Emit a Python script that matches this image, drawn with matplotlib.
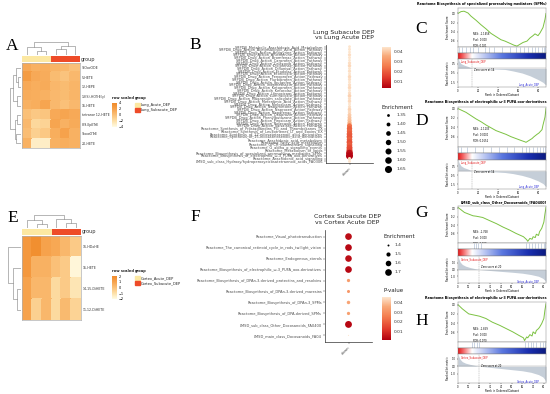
import matplotlib
matplotlib.use("Agg")
import matplotlib.pyplot as plt
import numpy as np
from matplotlib.colors import LinearSegmentedColormap, Normalize
from matplotlib.cm import ScalarMappable
from matplotlib.patches import Rectangle

W, H = 550, 394

# ---------------- data ----------------
# A: lung heatmap (row scaled)
a_rows = ["9-OxoODE", "5-HETE", "12-HEPE", "13(S)-HOTrE(γ)", "15-HETE",
          "tetranor 12-HETE", "8,9-EpETrE", "9-oxoOTrE", "20-HETE"]
a_vals = [[1.5, 1.0, 1.2, 0.8, 0.6, 0.0],
          [2.5, 1.5, 1.3, 0.3, -0.2, 0.5],
          [1.5, 1.2, 1.4, 0.6, 0.3, 0.7],
          [1.3, 1.2, 1.0, 0.5, 0.3, 0.7],
          [1.0, 1.2, 1.8, 0.5, 0.0, 0.5],
          [0.0, -0.5, -0.3, 1.5, 1.8, 1.5],
          [0.5, -1.5, -1.2, 1.8, 1.0, 1.4],
          [0.2, -1.0, -0.5, 1.2, 2.0, 1.0],
          [1.0, -3.0, -3.0, 1.0, 1.2, 1.0]]
a_groups = ["Lung_Acute_DEP"] * 3 + ["Lung_Subacute_DEP"] * 3
a_col_tree = ((0, (1, 2, 0.35), 0.6), ((3, 4, 0.5), 5, 0.7), 1.0)
a_row_tree = (((0, (1, 2, 0.3), 0.5), (3, 4, 0.35), 0.7), ((5, 6, 0.4), (7, 8, 0.45), 0.6), 1.0)

# E: cortex heatmap (row scaled)
e_rows = ["16-HDoHE", "15-HETE", "14,15-DiHETE", "11,12-DiHETE"]
e_vals = [[1.4, 1.8, 1.0, 0.8, 0.3, -0.3],
          [1.4, 0.5, 0.5, 0.0, -0.3, -1.8],
          [1.0, 0.3, 0.3, -0.8, -0.3, -1.2],
          [1.0, -0.5, 0.3, -0.8, 0.2, -0.6]]
e_groups = ["Cortex_Acute_DEP"] * 3 + ["Cortex_Subacute_DEP"] * 3
e_col_tree = ((0, (1, 2, 0.3), 0.6), (3, (4, 5, 0.4), 0.7), 1.0)
e_row_tree = (0, (1, (2, 3, 0.3), 0.6), 1.0)

# B: lung enrichment dot plot
b_terms = ["SMPDB_Metabolic_Arachidonic_Acid_Metabolism",
           "SMPDB_Drug_Action_Acetylsalicylic_Acid_Action_Pathway",
           "SMPDB_Drug_Action_Antipyrine_Action_Pathway",
           "SMPDB_Drug_Action_Antrafenine_Action_Pathway",
           "SMPDB_Drug_Action_Bromfenac_Action_Pathway",
           "SMPDB_Drug_Action_Carprofen_Action_Pathway",
           "SMPDB_Drug_Action_Celecoxib_Action_Pathway",
           "SMPDB_Drug_Action_Diclofenac_Action_Pathway",
           "SMPDB_Drug_Action_Diflunisal_Action_Pathway",
           "SMPDB_Drug_Action_Etodolac_Action_Pathway",
           "SMPDB_Drug_Action_Etoricoxib_Action_Pathway",
           "SMPDB_Drug_Action_Fenoprofen_Action_Pathway",
           "SMPDB_Drug_Action_Flurbiprofen_Action_Pathway",
           "SMPDB_Drug_Action_Ibuprofen_Action_Pathway",
           "SMPDB_Drug_Action_Indomethacin_Action_Pathway",
           "SMPDB_Drug_Action_Ketoprofen_Action_Pathway",
           "SMPDB_Drug_Action_Ketorolac_Action_Pathway",
           "SMPDB_Drug_Action_Lornoxicam_Action_Pathway",
           "SMPDB_Drug_Action_Lumiracoxib_Action_Pathway",
           "SMPDB_Drug_Action_Magnesium_salicylate_Action_Pathway",
           "SMPDB_Drug_Action_Mefenamic_Acid_Action_Pathway",
           "SMPDB_Drug_Action_Meloxicam_Action_Pathway",
           "SMPDB_Drug_Action_Nabumetone_Action_Pathway",
           "SMPDB_Drug_Action_Naproxen_Action_Pathway",
           "SMPDB_Drug_Action_Nepafenac_Action_Pathway",
           "SMPDB_Drug_Action_Oxaprozin_Action_Pathway",
           "SMPDB_Drug_Action_Phenylbutazone_Action_Pathway",
           "SMPDB_Drug_Action_Piroxicam_Action_Pathway",
           "SMPDB_Drug_Action_Rofecoxib_Action_Pathway",
           "SMPDB_Drug_Action_Salsalate_Action_Pathway",
           "Reactome_Synthesis_of_Prostaglandins_PG_and_Thromboxanes_TX",
           "Reactome_Synthesis_of_Leukotrienes_LT_and_Eoxins_EX",
           "Reactome_Synthesis_of_12-eicosatetraenoic_acid_derivatives",
           "Reactome_Synthesis_of_15-eicosatetraenoic_acid_derivatives",
           "Reactome_Arachidonic_acid_metabolism",
           "Reactome_Fatty_acid_metabolism",
           "Reactome_GPCR_downstream_signalling",
           "Reactome_G_alpha_q_signalling_events",
           "Reactome_Metabolism_of_lipids",
           "Reactome_Biosynthesis_of_specialized_proresolving_mediators_SPMs",
           "Reactome_Biosynthesis_of_electrophilic_ω-3_PUFA_oxo-derivatives",
           "Reactome_Arachidonic_acid_signalling",
           "LMSD_sub_class_Hydroxy/hydroperoxyeicosatetraenoic_acids_FA0306"]
b_pval = [0.046, 0.045, 0.045, 0.044, 0.045, 0.046, 0.044, 0.043, 0.045, 0.044,
          0.045, 0.043, 0.044, 0.045, 0.044, 0.043, 0.045, 0.044, 0.042, 0.044,
          0.043, 0.045, 0.044, 0.042, 0.043, 0.041, 0.040, 0.039, 0.037,
          0.024, 0.021, 0.022, 0.020, 0.019, 0.021, 0.018, 0.020, 0.017, 0.016,
          0.006, 0.004, 0.044, 0.045]
b_enrich = [1.35, 1.36, 1.35, 1.37, 1.36, 1.35, 1.37, 1.38, 1.36, 1.37,
            1.36, 1.38, 1.37, 1.36, 1.37, 1.38, 1.36, 1.37, 1.39, 1.37,
            1.38, 1.36, 1.37, 1.39, 1.38, 1.40, 1.41, 1.42, 1.43,
            1.48, 1.50, 1.50, 1.52, 1.53, 1.51, 1.54, 1.52, 1.55, 1.56,
            1.63, 1.65, 1.37, 1.36]
b_size_breaks = [1.35, 1.40, 1.45, 1.50, 1.55, 1.60, 1.65]
b_p_ticks = [0.01, 0.02, 0.03, 0.04]

# F: cortex enrichment dot plot
f_terms = ["Reactome_Visual_phototransduction",
           "Reactome_The_canonical_retinoid_cycle_in_rods_twilight_vision",
           "Reactome_Endogenous_sterols",
           "Reactome_Biosynthesis_of_electrophilic_ω-3_PUFA_oxo-derivatives",
           "Reactome_Biosynthesis_of_DPAn-3-derived_protectins_and_resolvins",
           "Reactome_Biosynthesis_of_DPAn-3-derived_maresins",
           "Reactome_Biosynthesis_of_DPAn-3_SPMs",
           "Reactome_Biosynthesis_of_DPA-derived_SPMs",
           "LMSD_sub_class_Other_Docosanoids_FA0400",
           "LMSD_main_class_Docosanoids_FA04"]
f_pval = [0.003, 0.002, 0.003, 0.002, 0.033, 0.032, 0.035, 0.034, 0.002, 0.046]
f_enrich = [1.70, 1.70, 1.69, 1.70, 1.45, 1.44, 1.46, 1.45, 1.72, 1.38]
f_size_breaks = [1.4, 1.5, 1.6, 1.7]
f_p_ticks = [0.01, 0.02, 0.03, 0.04]

# GSEA panels C, D, G, H
c_rank = [0, 3, 6, 10, 13, 18, 23, 28, 33, 38, 43, 47, 50, 54, 56, 59, 62, 65, 69, 72, 75, 77, 80, 82, 85, 87, 88]
c_es = [0.00, 0.04, 0.05, 0.01, -0.06, -0.15, -0.25, -0.34, -0.44, -0.51, -0.58, -0.61, -0.64, -0.68,
        -0.70, -0.72, -0.68, -0.64, -0.61, -0.54, -0.49, -0.45, -0.49, -0.43, -0.31, -0.13, 0.00]
c_hits = [1, 4, 8, 12, 15, 20, 27, 31, 36, 44, 52, 58, 62, 66, 70, 74, 77, 80, 84, 86, 87]
c_mrank = [0, 1, 3, 6, 10, 14, 25, 35, 47, 55, 64, 72, 80, 85, 88]
c_mval = [1.2, 0.8, 0.5, 0.35, 0.2, 0.0, -0.04, -0.07, -0.12, -0.28, -0.5, -0.8, -1.2, -1.5, -1.8]

d_rank = [0, 8, 13, 18, 23, 28, 33, 38, 43, 48, 53, 58, 63, 67, 68, 71, 74, 76, 79, 81, 84, 85, 87, 88]
d_es = [0.00, -0.08, -0.15, -0.22, -0.28, -0.35, -0.41, -0.47, -0.51, -0.55, -0.60, -0.64, -0.68,
        -0.71, -0.72, -0.68, -0.64, -0.60, -0.55, -0.52, -0.45, -0.35, -0.18, 0.00]
d_hits = [0, 3, 9, 17, 25, 33, 41, 49, 56, 64, 68, 71, 75, 79, 82, 85, 87]
d_mrank = [0, 1, 3, 6, 10, 14, 25, 35, 47, 55, 64, 72, 80, 85, 88]
d_mval = [1.3, 0.9, 0.55, 0.35, 0.2, 0.0, -0.05, -0.1, -0.18, -0.3, -0.5, -0.75, -1.1, -1.4, -1.75]

g_rank = [0, 6, 14, 17, 23, 29, 36, 42, 48, 54, 61, 64, 65, 67, 69, 70, 72, 73, 75, 76, 78, 80, 81, 82]
g_es = [0.02, -0.10, -0.18, -0.19, -0.22, -0.29, -0.37, -0.45, -0.52, -0.60, -0.68, -0.75, -0.79,
        -0.72, -0.74, -0.68, -0.70, -0.62, -0.65, -0.56, -0.48, -0.33, -0.14, 0.02]
g_hits = [15, 17, 19, 21, 63, 66, 69, 72, 75, 77, 80, 81]
g_mrank = [0, 1, 2, 4, 7, 11, 16, 20, 30, 40, 50, 60, 68, 75, 79, 81, 82]
g_mval = [2.0, 1.5, 1.1, 0.75, 0.5, 0.3, 0.12, 0.0, -0.15, -0.28, -0.4, -0.55, -0.75, -1.0, -1.3, -1.6, -1.9]

h_rank = [0, 4, 10, 14, 20, 26, 32, 39, 45, 51, 57, 61, 62, 64, 65, 67, 69, 70, 72, 73, 75, 76, 78, 80, 81, 82]
h_es = [0.00, -0.09, -0.20, -0.22, -0.25, -0.30, -0.38, -0.45, -0.52, -0.59, -0.67, -0.72, -0.78,
        -0.70, -0.72, -0.65, -0.68, -0.59, -0.63, -0.56, -0.52, -0.49, -0.41, -0.30, -0.12, 0.02]
h_hits = [13, 15, 18, 20, 62, 65, 68, 70, 73, 76, 79, 81]
h_mrank = [0, 1, 2, 4, 7, 11, 16, 20, 30, 40, 50, 60, 68, 75, 79, 81, 82]
h_mval = [1.6, 1.2, 0.9, 0.6, 0.4, 0.25, 0.1, 0.0, -0.15, -0.3, -0.45, -0.6, -0.8, -1.1, -1.4, -1.75, -2.1]

# ---------------- styles ----------------
hm_cmap = LinearSegmentedColormap.from_list("hm", ["#FFFBE4", "#FDE0A8", "#FAC078", "#F6A24C", "#F08A2A"])
p_cmap = LinearSegmentedColormap.from_list(
    "pv", [(0, "#B10010"), (0.25, "#E0392B"), (0.55, "#F47E4F"), (0.78, "#F8A878"), (1, "#FDE5CD")])
rank_cmap = LinearSegmentedColormap.from_list(
    "rk", [(0, "#E31A1C"), (0.06, "#F46A6A"), (0.16, "#FFFFFF"), (0.5, "#5B78E0"), (0.8, "#1A2FB0"), (1, "#0B1A80")])
group_colors = {"Lung_Acute_DEP": "#FCE8A2", "Lung_Subacute_DEP": "#EE4B28",
                "Cortex_Acute_DEP": "#FCE8A2", "Cortex_Subacute_DEP": "#EE4B28"}
txt_gray = "#4D4D4D"

fig = plt.figure(figsize=(5.5, 3.94), dpi=100)


def box(x0, y0, x1, y1):
    return fig.add_axes([x0 / W, 1 - y1 / H, (x1 - x0) / W, (y1 - y0) / H])


def dendro(ax, node, orient):
    if isinstance(node, int):
        return node + 0.5, 0.0
    l, r, h = node
    xl, hl = dendro(ax, l, orient)
    xr, hr = dendro(ax, r, orient)
    xs = [xl, xl, xr, xr]
    ys = [hl, h, h, hr]
    if orient == "top":
        ax.plot(xs, ys, color="#8C8C8C", lw=0.45)
    else:
        ax.plot(ys, xs, color="#8C8C8C", lw=0.45)
    return (xl + xr) / 2, h


def heatmap(x0, x1, y0, y1, dx0, dy0, vals, rows, groups, col_tree, row_tree, vlim):
    vals = np.array(vals)
    nrow, ncol = vals.shape
    ax = box(x0, y0, x1, y1)
    ax.pcolormesh(vals, cmap=hm_cmap, vmin=-vlim, vmax=vlim, edgecolors="face", linewidth=0.1)
    ax.set_xlim(0, ncol)
    ax.set_ylim(nrow, 0)
    ax.set_xticks([])
    ax.set_yticks(np.arange(nrow) + 0.5)
    ax.set_yticklabels(rows, fontsize=2.3, color="#333333")
    ax.yaxis.tick_right()
    ax.tick_params(length=0, pad=1.2)
    for s in ax.spines.values():
        s.set_color("#B0B0B0")
        s.set_linewidth(0.5)
    gax = box(x0, y0 - 7, x1, y0 - 1)
    gax.bar(np.arange(ncol), 1, width=1, align="edge", color=[group_colors[g] for g in groups],
            linewidth=0)
    gax.set_xlim(0, ncol)
    gax.set_ylim(0, 1)
    gax.axis("off")
    gax.text(1.02, 0.5, "group", transform=gax.transAxes, fontsize=3.6, va="center", color="#333333")
    cax = box(x0, dy0, x1, y0 - 8)
    dendro(cax, col_tree, "top")
    cax.set_xlim(0, ncol)
    cax.set_ylim(0, 1.02)
    cax.axis("off")
    rax = box(dx0, y0, x0 - 1, y1)
    dendro(rax, row_tree, "left")
    rax.set_ylim(nrow, 0)
    rax.set_xlim(1.02, 0)
    rax.axis("off")


def heat_legend(x, y, vlim, ticks, groups):
    cax = box(x, y + 3, x + 5, y + 27 if vlim == 4 else y + 26)
    cb = fig.colorbar(ScalarMappable(Normalize(-vlim, vlim), hm_cmap), cax=cax, ticks=ticks)
    cb.outline.set_visible(False)
    cax.tick_params(labelsize=2.5, length=0, pad=1)
    fig.text(x / W, 1 - (y - 1) / H, "row scaled", fontsize=2.6, fontweight="bold", color="#222222")
    fig.text((x + 23) / W, 1 - (y - 1) / H, "group", fontsize=2.6, fontweight="bold", color="#222222")
    names = list(dict.fromkeys(groups))
    for i, g in enumerate(names):
        gy = y + 3 + i * 5
        fig.patches.append(Rectangle(((x + 23) / W, 1 - (gy + 4) / H), 5 / W, 4 / H,
                                     transform=fig.transFigure, color=group_colors[g]))
        fig.text((x + 29) / W, 1 - (gy + 2) / H, g, fontsize=2.6, va="center", color="#222222")


def dotplot(x0, y0, x1, y1, terms, pval, enrich, size_fn, pmin, pmax):
    ax = box(x0, y0, x1, y1)
    n = len(terms)
    yy = np.arange(n)
    ax.scatter(np.ones(n), yy, s=size_fn(np.array(enrich)), c=pval, cmap=p_cmap,
               vmin=pmin, vmax=pmax, linewidths=0, zorder=3)
    ax.set_xlim(0.4, 1.6)
    ax.set_ylim(n - 1 + 0.6, -0.6)
    ax.set_yticks(yy)
    ax.set_yticklabels(terms, fontsize=2.6, color=txt_gray)
    ax.set_xticks([1])
    ax.set_xticklabels(["down"], rotation=45, ha="right", va="top", rotation_mode="anchor",
                       fontsize=2.8, color=txt_gray)
    ax.tick_params(length=1.2, width=0.3, pad=1, color="#333333")
    for side in ["top", "right"]:
        ax.spines[side].set_visible(False)
    for side in ["left", "bottom"]:
        ax.spines[side].set_linewidth(0.5)
        ax.spines[side].set_color("#333333")


def p_legend(x, y0, y1, pmin, pmax, ticks):
    cax = box(x, y0, x + 9, y1)
    cb = fig.colorbar(ScalarMappable(Normalize(pmin, pmax), p_cmap), cax=cax, ticks=ticks)
    cb.outline.set_visible(False)
    cax.tick_params(labelsize=3.2, length=0, pad=2, labelcolor="#333333")


def size_b(e):
    return np.clip(4 + (e - 1.35) / 0.3 * 22, 0.5, None)


def size_f(e):
    return np.clip(2 + (e - 1.4) / 0.3 * 21, 0.6, None)


def gsea(ys, title, rank, es, hits, mrank, mval, xmax, xticks, es_ylim, es_ticks,
         m_ylim, m_ticks, zero, stats, stats_y, up, down):
    x0, x1 = 458, 546
    t, e0, e1, b0, b1, r1 = ys
    fig.text(547 / W, 1 - t / H, title, ha="right", va="center", fontsize=2.4, fontweight="bold")
    ax = box(x0, e0, x1, e1)
    ax.plot(rank, es, color="#7CC242", lw=0.7)
    ax.set_xlim(0, xmax)
    ax.set_ylim(*es_ylim)
    ax.set_xticks([])
    ax.set_yticks(es_ticks)
    ax.set_yticklabels([f"{v:.1f}" for v in es_ticks])
    ax.set_ylabel("Enrichment Score", fontsize=1.9, labelpad=1)
    ax.text(0.17, stats_y, stats, transform=ax.transAxes, fontsize=1.8, va="top", linespacing=1.7)
    hx = box(x0, e1, x1, b0)
    hx.vlines(hits, 0, 1, color="#B5C3D8", lw=0.5)
    hx.set_xlim(0, xmax)
    hx.set_ylim(0, 1)
    hx.set_xticks([])
    hx.set_yticks([])
    bx = box(x0, b0, x1, b1)
    bx.imshow(np.linspace(0, 1, 256)[None, :], aspect="auto", cmap=rank_cmap, extent=[0, xmax, 0, 1])
    bx.set_xticks([])
    bx.set_yticks([])
    rx = box(x0, b1, x1, r1)
    rx.fill_between(mrank, mval, 0, color="#C5CED8", lw=0)
    rx.axhline(0, color="#9A9A9A", lw=0.3)
    rx.axvline(zero, color="#9A9A9A", lw=0.3, ls="--")
    rx.set_xlim(0, xmax)
    rx.set_ylim(*m_ylim)
    rx.set_xticks(xticks)
    rx.set_yticks(m_ticks)
    rx.set_yticklabels([f"{v:.1f}" for v in m_ticks])
    rx.set_xlabel("Rank in Ordered Dataset", fontsize=2.0, labelpad=0.3)
    rx.set_ylabel("Ranked list metric", fontsize=1.9, labelpad=1)
    rx.text(0.03, 0.88, up, transform=rx.transAxes, fontsize=1.8, color="#E41A1C", va="center")
    rx.text(zero / xmax + 0.02, 0.6, f"Zero score at {zero}", transform=rx.transAxes, fontsize=1.8, va="center")
    rx.text(0.93, 0.07, down, transform=rx.transAxes, fontsize=1.8, color="#2B2BD9", ha="right", va="center")
    for a in (ax, hx, bx, rx):
        a.tick_params(labelsize=1.8, length=1, width=0.3, pad=0.5)
        for s in a.spines.values():
            s.set_linewidth(0.3)
            s.set_color("#777777")


# ---------------- A / E heatmaps ----------------
heatmap(22, 80, 63, 148, 10, 42, a_vals, a_rows, a_groups, a_col_tree, a_row_tree, 4)
heat_legend(112, 100, 4, [-4, -2, 0, 2, 4], a_groups)
heatmap(22, 81, 236, 320, 8, 215, e_vals, e_rows, e_groups, e_col_tree, e_row_tree, 2)
heat_legend(112, 273, 2, [-2, -1, 0, 1, 2], e_groups)

# ---------------- B / F dot plots ----------------
dotplot(326, 45, 373, 163, b_terms, b_pval, b_enrich, size_b, 0.003, 0.045)
fig.text(344 / W, 1 - 35 / H, "Lung Subacute DEP\nvs Lung Acute DEP", ha="center", va="center",
         fontsize=4.5, color="#222222", linespacing=1.2)
p_legend(382, 47, 88, 0.003, 0.045, b_p_ticks)

dotplot(325, 230, 372, 342, f_terms, f_pval, f_enrich, size_f, 0.0005, 0.046)
fig.text(347 / W, 1 - 219.5 / H, "Cortex Subacute DEP\nvs Cortex Acute DEP", ha="center", va="center",
         fontsize=4.5, color="#222222", linespacing=1.2)
p_legend(382, 297, 340, 0.0005, 0.046, f_p_ticks)

# ---------------- C D G H GSEA ----------------
gsea((4, 8, 47, 53, 59, 87), "Reactome Biosynthesis of specialized proresolving mediators (SPMs)",
     c_rank, c_es, c_hits, c_mrank, c_mval, 88, [0, 20, 40, 60, 80], (-0.74, 0.12), [0.0, -0.2, -0.4, -0.6],
     (-2.0, 1.0), [0.5, -0.5, -1.5], 14, "NES: -1.1456\nPval: 0.000\nFDR: 0.021", 0.38,
     "Lung_Subacute_DEP", "Lung_Acute_DEP")
gsea((102, 107, 147, 153, 160, 189), "Reactome Biosynthesis of electrophilic ω-3 PUFA oxo-derivatives",
     d_rank, d_es, d_hits, d_mrank, d_mval, 88, [0, 20, 40, 60, 80], (-0.82, 0.034), [0.0, -0.2, -0.4, -0.6],
     (-2.0, 1.2), [0.5, -0.5, -1.5], 14, "NES: -1.1103\nPval: 0.0000\nFDR: 0.0152", 0.5,
     "Lung_Subacute_DEP", "Lung_Acute_DEP")
gsea((202, 206, 243, 249, 256, 283), "LMSD_sub_class_Other_Docosanoids_[FA0400]",
     g_rank, g_es, g_hits, g_mrank, g_mval, 82, list(range(0, 81, 10)), (-0.83, 0.054), [0.0, -0.2, -0.4, -0.6],
     (-2.0, 2.0), [1.0, 0.0, -1.0], 20, "NES: -1.768\nPval: 0.000\nFDR: 0.008", 0.36,
     "Cortex_Subacute_DEP", "Cortex_Acute_DEP")
gsea((298, 302, 342, 348, 354, 383), "Reactome Biosynthesis of electrophilic ω-3 PUFA oxo-derivatives",
     h_rank, h_es, h_hits, h_mrank, h_mval, 82, list(range(0, 81, 10)), (-0.81, 0.058), [0.0, -0.2, -0.4, -0.6],
     (-2.2, 1.6), [1.0, 0.0, -1.0], 20, "NES: -1.859\nPval: 0.000\nFDR: 0.070", 0.37,
     "Cortex_Subacute_DEP", "Cortex_Acute_DEP")

# ---------------- legends & letters (pixel overlay) ----------------
ov = fig.add_axes([0, 0, 1, 1])
ov.set_xlim(0, W)
ov.set_ylim(H, 0)
ov.axis("off")
ov.patch.set_alpha(0)

ov.text(382, 107, "Enrichment", fontsize=4, color="#222222", va="center")
for i, e in enumerate(b_size_breaks):
    yy = 115 + 9 * i
    ov.scatter([388], [yy], s=size_b(np.array([e])), color="black", linewidths=0)
    ov.text(397, yy, f"{e:.2f}", fontsize=3.2, color="#333333", va="center")

ov.text(383, 236, "Enrichment", fontsize=4, color="#222222", va="center")
for i, e in enumerate(f_size_breaks):
    yy = 245 + 9 * i
    ov.scatter([388], [yy], s=size_f(np.array([e])), color="black", linewidths=0)
    ov.text(395, yy, f"{e:.1f}", fontsize=3.2, color="#333333", va="center")
ov.text(383, 291, "P-value", fontsize=4, color="#222222", va="center")

letters = [("A", 6, 50), ("B", 189, 49), ("C", 415, 33), ("D", 415, 125),
           ("E", 7, 222), ("F", 190, 221), ("G", 415, 217), ("H", 415, 325)]
for s, x, y in letters:
    ov.text(x, y, s, fontsize=12.5, family="Liberation Serif", va="baseline", ha="left")

fig.savefig("out.png", dpi=100)
